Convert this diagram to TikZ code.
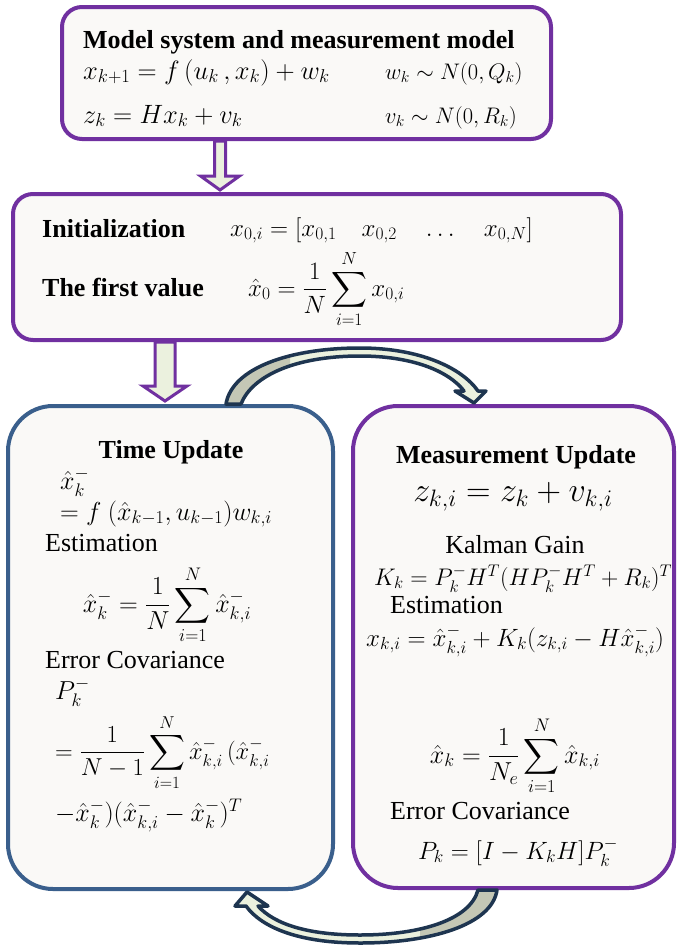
\RequirePackage{fix-cm}
\documentclass[tikz,border=0pt]{standalone}
\usepackage{amsmath}
\usepackage{fontspec}
\setmainfont{Liberation Serif}
\definecolor{purp}{HTML}{7030A0}
\definecolor{bluebox}{HTML}{3A5F8C}
\definecolor{boxfill}{HTML}{FAF9F7}
\definecolor{lightfill}{HTML}{EBF1DE}
\definecolor{grayfill}{HTML}{C4C7B5}
\definecolor{navy}{HTML}{1E3550}
\tikzset{
  box/.style={draw, line width=4pt, fill=boxfill, inner sep=0pt},
  titletext/.style={font=\fontsize{26}{30}\selectfont\bfseries, inner sep=0pt},
  bodytext/.style={font=\fontsize{26}{30}\selectfont, inner sep=0pt},
  topmath/.style={font=\fontsize{26.5}{30}\selectfont, inner sep=0pt},
  smallmath/.style={font=\fontsize{22.5}{26}\selectfont, inner sep=0pt},
  initmath/.style={font=\fontsize{25}{29}\selectfont, inner sep=0pt},
  summath/.style={font=\fontsize{25}{29}\selectfont, inner sep=0pt},
  mathtext/.style={font=\fontsize{26}{30}\selectfont, inner sep=0pt},
  covmath/.style={font=\fontsize{24.5}{28}\selectfont, inner sep=0pt},
  gainmath/.style={font=\fontsize{25}{29}\selectfont, inner sep=0pt},
  kmath/.style={font=\fontsize{24}{28}\selectfont, inner sep=0pt},
  bigmath/.style={font=\fontsize{34}{38}\selectfont, inner sep=0pt},
  blockarrow/.style={draw=purp, line width=3pt, fill=lightfill, line join=miter},
  curvearrow/.style={draw=navy, line width=3.5pt, line join=round},
}
\begin{document}
\begin{tikzpicture}[x=1pt,y=-1pt]
\useasboundingbox (0,0) rectangle (677,946);
\fill[white] (0,0) rectangle (677,946);

% boxes
\node[box, draw=purp, rounded corners=20pt, minimum width=489pt, minimum height=132pt] (model) at (306.5,73) {};
\node[box, draw=purp, rounded corners=20pt, minimum width=608pt, minimum height=146pt] (init) at (317,267) {};
\node[box, draw=bluebox, rounded corners=45pt, minimum width=325pt, minimum height=483pt] (time) at (170.5,647.5) {};
\node[box, draw=purp, rounded corners=45pt, minimum width=321pt, minimum height=482pt] (meas) at (513.5,647) {};

% top box text
\node[titletext, anchor=base west] (mtitle) at (83,48) {Model system and measurement model};
\node[topmath, anchor=base west] (eqa) at (83,79) {$x_{k+1} = f\,(u_k\,, x_k) + w_k$};
\node[topmath, anchor=base west] (eqb) at (83,123) {$z_k = Hx_k + v_k$};
\node[smallmath, anchor=base west] (eqc) at (385,79) {$w_k \sim N(0,Q_k)$};
\node[smallmath, anchor=base west] (eqd) at (385,123) {$v_k \sim N(0,R_k)$};

% init box text
\node[titletext, anchor=base west] (ititle) at (42,237) {Initialization};
\node[titletext, anchor=base west] (ftitle) at (42,296) {The first value};
\node[initmath, anchor=base west] (ieq) at (230,236) {$x_{0,i} = [x_{0,1}\quad x_{0,2}\quad \dots\quad x_{0,N}]$};
\node[summath, anchor=base west] (feq) at (248,296) {$\displaystyle \hat{x}_0 = \frac{1}{N}\sum_{i=1}^{N} x_{0,i}$};

% time update text
\node[titletext, anchor=base] (ttitle) at (171,458) {Time Update};
\node[mathtext, anchor=base west] (t1) at (60,489) {$\hat{x}_k^-$};
\node[mathtext, anchor=base west] (t2) at (60,520) {$= f\ (\hat{x}_{k-1}, u_{k-1}) w_{k,i}$};
\node[bodytext, anchor=base west] (t3) at (45,551) {Estimation};
\node[mathtext, anchor=base] (t4) at (167,612) {$\displaystyle \hat{x}_k^- = \frac{1}{N}\sum_{i=1}^{N} \hat{x}_{k,i}^-$};
\node[bodytext, anchor=base west] (t5) at (45,668) {Error Covariance};
\node[mathtext, anchor=base west] (t6) at (55,699) {$P_k^-$};
\node[covmath, anchor=base west] (t7) at (55,759) {$\displaystyle = \frac{1}{N-1}\sum_{i=1}^{N} \hat{x}_{k,i}^-\,(\hat{x}_{k,i}^-$};
\node[mathtext, anchor=base west] (t8) at (55,821) {$- \hat{x}_k^-)(\hat{x}_{k,i}^- - \hat{x}_k^-)^T$};

% measurement update text
\node[titletext, anchor=base] (mutitle) at (516,463) {Measurement Update};
\node[bigmath, anchor=base] (m1) at (513,501) {$z_{k,i} = z_k + v_{k,i}$};
\node[bodytext, anchor=base] (m2) at (515,553) {Kalman Gain};
\node[kmath, anchor=base west] (m3) at (374,585) {$K_k = P_k^- H^T (H P_k^- H^T + R_k)^T$};
\node[bodytext, anchor=base west] (m4) at (390,613) {Estimation};
\node[gainmath, anchor=base west] (m5) at (366,646) {$x_{k,i} = \hat{x}^-_{k,i} + K_k(z_{k,i} - H\hat{x}^-_{k,i})$};
\node[mathtext, anchor=base] (m6) at (515,763) {$\displaystyle \hat{x}_k = \frac{1}{N_e}\sum_{i=1}^{N} \hat{x}_{k,i}$};
\node[bodytext, anchor=base west] (m7) at (390,819) {Error Covariance};
\node[gainmath, anchor=base] (m8) at (518,859) {$P_k = [I - K_k H]P_k^-$};

% straight block arrows
\coordinate (a1s) at (model.south -| 220,0);
\coordinate (a1e) at (init.north -| 220,0);
\draw[blockarrow] ([xshift=-5.5pt]a1s) -- ([xshift=-5.5pt,yshift=-35pt]a1s) -- ([xshift=-19.5pt,yshift=-35pt]a1s)
  -- ([yshift=2pt]a1e) -- ([xshift=19.5pt,yshift=-35pt]a1s) -- ([xshift=5.5pt,yshift=-35pt]a1s) -- ([xshift=5.5pt]a1s) -- cycle;
\coordinate (a2s) at (init.south -| 165,0);
\coordinate (a2e) at (time.north -| 165,0);
\draw[blockarrow] ([xshift=-10pt]a2s) -- ([xshift=-10pt,yshift=-44pt]a2s) -- ([xshift=-22pt,yshift=-44pt]a2s)
  -- ([yshift=3pt]a2e) -- ([xshift=22pt,yshift=-44pt]a2s) -- ([xshift=10pt,yshift=-44pt]a2s) -- ([xshift=10pt]a2s) -- cycle;

% curved arrow: time update -> measurement update
\coordinate (c1s) at (time.north -| 233,0);
\coordinate (c1e) at (meas.north -| 474,0);
\def\toparrow{([xshift=-7pt]c1s) .. controls (232,368) and (290,348) .. (360,348) .. controls (420,348) and (462,368) .. (478,391)
  -- (486,391) -- ([yshift=1pt]c1e) -- (455,391) -- (464,391) .. controls (448,370) and (410,356) .. (360,356)
  .. controls (295,356) and (252,376) .. ([xshift=8pt]c1s) -- cycle}
\fill[lightfill] \toparrow;
\begin{scope}
  \clip (200,330) rectangle (290,412);
  \fill[grayfill] \toparrow;
\end{scope}
\draw[curvearrow] \toparrow;

% curved arrow: measurement update -> time update
\coordinate (c2s) at (meas.south -| 488,0);
\coordinate (c2e) at (time.south -| 247,0);
\def\botarrow{([xshift=9pt]c2s) .. controls (492,925) and (430,943) .. (360,943) .. controls (300,943) and (262,928) .. (246,906)
  -- (235,906) -- ([yshift=-1pt]c2e) -- (268,906) -- (258,906) .. controls (275,925) and (310,935) .. (360,935)
  .. controls (420,935) and (470,920) .. ([xshift=-10pt]c2s) -- cycle}
\fill[lightfill] \botarrow;
\begin{scope}
  \clip (420,880) rectangle (510,946);
  \fill[grayfill] \botarrow;
\end{scope}
\draw[curvearrow] \botarrow;
\end{tikzpicture}
\end{document}
